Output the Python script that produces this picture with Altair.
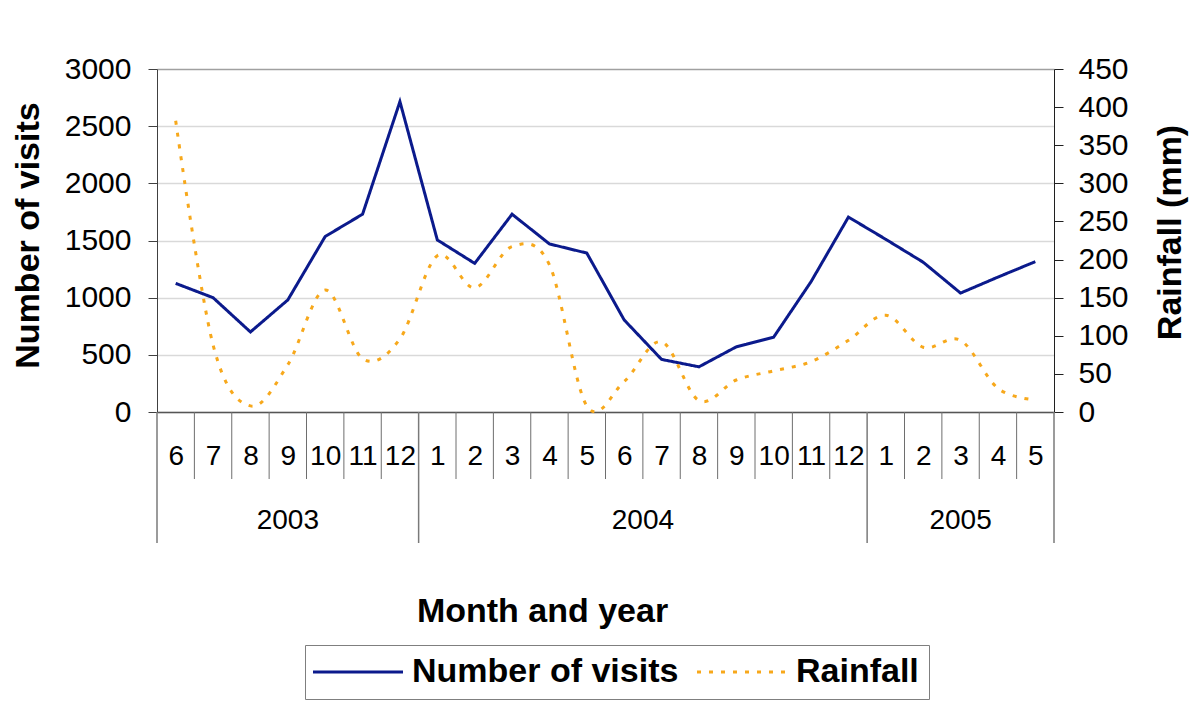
import altair as alt
import pandas as pd

# ---- data ----
month_labels = ["6", "7", "8", "9", "10", "11", "12",
                "1", "2", "3", "4", "5", "6", "7", "8", "9", "10", "11", "12",
                "1", "2", "3", "4", "5"]
year_labels = ["2003", "2004", "2005"]
months_per_year = [7, 12, 5]
visits = [1125, 1000, 700, 980, 1535, 1730, 2715, 1505, 1300, 1730, 1470, 1390,
          805, 460, 395, 570, 655, 1140, 1705, 1510, 1310, 1040, 1180, 1315]
rainfall = [382, 88, 8, 62, 160, 70, 96, 205, 163, 217, 193, 8,
            40, 92, 15, 42, 54, 66, 94, 127, 85, 94, 31, 16]
series_names = ["Number of visits", "Rainfall"]
left_ticks = [0, 500, 1000, 1500, 2000, 2500, 3000]
right_ticks = [0, 50, 100, 150, 200, 250, 300, 350, 400, 450]

n = len(month_labels)
df = pd.DataFrame({
    "pos": [i + 0.5 for i in range(n)],
    "month": month_labels,
    "visits": visits,
    "rain": rainfall,
})

acc = 0
year_starts = [0]
for c in months_per_year:
    acc += c
    year_starts.append(acc)
year_set = set(year_starts)
bdf = pd.DataFrame({
    "pos": list(range(n + 1)),
    "kind": ["year" if i in year_set else "month" for i in range(n + 1)],
})
ydf = pd.DataFrame({
    "pos": [(year_starts[k] + year_starts[k + 1]) / 2 for k in range(len(year_labels))],
    "year": year_labels,
})

W, H = 897, 343
FONT = "Liberation Sans"
label_expr = "[" + ",".join("'%s'" % m for m in month_labels) + "][floor(datum.value)]"

x_axis = alt.Axis(
    values=[i + 0.5 for i in range(n)], labelExpr=label_expr,
    ticks=False, tickSize=0, labelPadding=44, labelBaseline="middle",
    labelFont=FONT, labelFontSize=28, labelColor="black", labelOverlap=False,
    labelFlush=False, grid=False, domainColor="#555555", domainWidth=1.5,
    title="Month and year", titleFont=FONT, titleFontSize=34, titleFontWeight="bold",
    titleColor="black", titleX=385, titleY=199, titleAlign="center", titleBaseline="middle",
)
x_scale = alt.Scale(domain=[0, n], nice=False, zero=False)


def xenc():
    return alt.X("pos:Q", scale=x_scale, axis=x_axis, title="Month and year")


legend = alt.Legend(
    orient="none", legendX=148, legendY=576, direction="horizontal", title="",
    strokeColor="#7f7f7f", padding=10, fillColor="white",
    labelFont=FONT, labelFontSize=34, labelFontWeight="bold", labelColor="black",
    labelLimit=600, symbolType="M-3,0H3", symbolSize=900, symbolStrokeWidth=3,
    symbolOffset=26, labelOffset=37, columnPadding=12,
)
color = alt.Color("series:N", scale=alt.Scale(domain=series_names, range=["#0b1a8c", "#f7a81b"]),
                  legend=legend)
dash = alt.StrokeDash("series:N", scale=alt.Scale(domain=series_names, range=[[1, 0], [4, 8]]),
                      legend=legend)

base = alt.Chart(df)

visits_line = base.transform_calculate(series="'Number of visits'").mark_line(
    strokeWidth=3
).encode(
    x=xenc(),
    y=alt.Y("visits:Q", scale=alt.Scale(domain=[0, 3000], nice=False),
            axis=alt.Axis(values=left_ticks, format="d", orient="left", tickSize=9, labelPadding=17,
                          labelFont=FONT, labelFontSize=30, labelColor="black",
                          domainColor="#404040", tickColor="#404040",
                          grid=True,
                          gridColor={"condition": {"test": "datum.value === 3000", "value": "#a0a0a0"},
                                     "value": "#d9d9d9"},
                          gridWidth=1.5,
                          title="Number of visits", titleFont=FONT, titleFontSize=34,
                          titleFontWeight="bold", titleColor="black", titleAngle=270,
                          titleX=-119, titleY=166, titleAlign="center", titleBaseline="alphabetic")),
    color=color,
    strokeDash=dash,
)

rain_line = base.transform_calculate(series="'Rainfall'").mark_line(
    strokeWidth=3, interpolate="cardinal", tension=0
).encode(
    x=xenc(),
    y=alt.Y("rain:Q", scale=alt.Scale(domain=[0, 450], nice=False),
            axis=alt.Axis(values=right_ticks, format="d", orient="right", tickSize=9, labelPadding=15,
                          labelFont=FONT, labelFontSize=30, labelColor="black",
                          domainColor="#202020", tickColor="#202020", grid=False,
                          title="Rainfall (mm)", titleFont=FONT, titleFontSize=34,
                          titleFontWeight="bold", titleColor="black", titleAngle=270,
                          titleX=126, titleY=163, titleAlign="center", titleBaseline="alphabetic")),
    color=color,
    strokeDash=dash,
)

month_rules = alt.Chart(bdf).transform_filter("datum.kind == 'month'").mark_rule(
    color="#6e6e6e", strokeWidth=1
).encode(x=xenc(), y=alt.value(H), y2=alt.value(H + 67))

year_rules = alt.Chart(bdf).transform_filter("datum.kind == 'year'").mark_rule(
    color="#7a7a7a", strokeWidth=1.5
).encode(x=xenc(), y=alt.value(H), y2=alt.value(H + 131))

year_text = alt.Chart(ydf).mark_text(
    font=FONT, fontSize=28, color="black", baseline="middle", align="center"
).encode(x=xenc(), y=alt.value(H + 108.5), text="year:N")

chart = alt.layer(
    month_rules, year_rules, year_text, visits_line, rain_line
).resolve_scale(y="independent").properties(
    width=W, height=H,
    autosize=alt.AutoSizeParams(type="none"),
    padding={"left": 149, "top": 61, "right": 138, "bottom": 292},
).configure_view(stroke="transparent")

chart.save("out.html", embed_options={"renderer": "svg", "actions": False})
